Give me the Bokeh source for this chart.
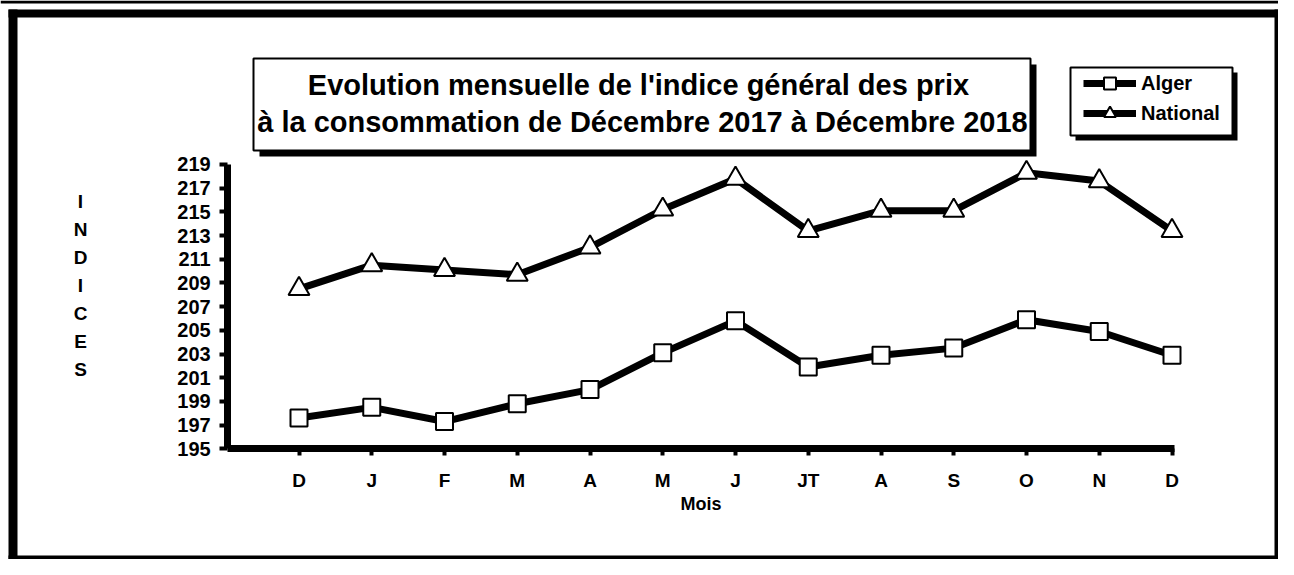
from bokeh.plotting import figure
from bokeh.models import (Range1d, LinearAxis, FixedTicker, BoxAnnotation, Label,
                          Legend, LegendItem)
from bokeh.embed import file_html
from bokeh.resources import INLINE

# ---------------- data ----------------
months = ["D", "J", "F", "M", "A", "M", "J", "JT", "A", "S", "O", "N", "D"]
alger = [197.6, 198.5, 197.3, 198.8, 200.0, 203.1, 205.8, 201.9, 202.9, 203.5, 205.9, 204.9, 202.9]
national = [208.5, 210.5, 210.1, 209.7, 212.0, 215.2, 217.8, 213.4, 215.1, 215.1, 218.3, 217.6, 213.4]
y_ticks = [195, 197, 199, 201, 203, 205, 207, 209, 211, 213, 215, 217, 219]
title_lines = ["Evolution mensuelle de l'indice général des  prix",
               "à la consommation de Décembre 2017 à Décembre 2018"]
y_label = "INDICES"
x_label = "Mois"
series_names = ["Alger", "National"]

x_idx = list(range(len(months)))

FONT = "Liberation Sans"
W, H = 1278, 559
FW, FH = W, H                 # the frame covers the whole canvas

# pixel anchors of the value axes in the picture
X0_PX, X_STEP = 298.5, 72.75          # first month, px per month
Y0_PX, Y_STEP = 448.3, 11.846         # value 195, px per index point
x_start = -X0_PX / X_STEP
x_end = x_start + FW / X_STEP
y_end = y_ticks[0] + Y0_PX / Y_STEP
y_start = y_end - FH / Y_STEP


def sx(px):   # picture x -> frame screen x
    return px


def sy(py):   # picture y -> frame screen y (bottom-up)
    return FH - py


p = figure(width=W, height=H, output_backend="svg", toolbar_location=None,
           x_range=Range1d(x_start, x_end), y_range=Range1d(y_start, y_end),
           x_axis_type=None, y_axis_type=None, min_border=0)
p.outline_line_color = None
p.background_fill_color = "white"
p.border_fill_color = "white"


# ---------------- decoration boxes ----------------
def rect(l, t, r, b, fill, line=None, lw=0):
    p.add_layout(BoxAnnotation(left=sx(l), right=sx(r), top=sy(t), bottom=sy(b),
                               left_units="screen", right_units="screen",
                               top_units="screen", bottom_units="screen",
                               fill_color=fill, fill_alpha=1, line_color=line,
                               line_alpha=1, line_width=lw, level="underlay"))


def boxed(l, t, r, b, shadow=6):
    rect(l + shadow, t + shadow, r + shadow, b + shadow, "black")
    rect(l, t, r, b, "white", "black", 2)


# page frame
rect(0, 0, W, 3, "black")          # thin rule along the top
rect(8, 9, W, 17, "black")         # top bar
rect(8, 9, 17, H, "black")         # left bar
rect(W - 4, 9, W, H, "black")      # right bar
rect(8, H - 4, W, H, "black")      # bottom bar

# ---------------- series ----------------
la = p.line(x_idx, alger, line_color="black", line_width=7, line_join="round")
sa = p.scatter(x_idx, alger, marker="square", size=17, fill_color="white",
               line_color="black", line_width=2)
ln = p.line(x_idx, national, line_color="black", line_width=7, line_join="round")
sn = p.scatter(x_idx, national, marker="triangle", size=21, fill_color="white",
               line_color="black", line_width=2)

# ---------------- axes ----------------
xaxis = LinearAxis(fixed_location=y_ticks[0], bounds=(-0.98, 12.03),
                   ticker=FixedTicker(ticks=x_idx),
                   major_label_overrides={i: m for i, m in enumerate(months)},
                   axis_label=x_label)
yaxis = LinearAxis(fixed_location=-0.98, bounds=(y_ticks[0], y_ticks[-1]),
                   ticker=FixedTicker(ticks=y_ticks))
for ax in (xaxis, yaxis):
    ax.axis_line_color = "black"
    ax.axis_line_width = 7
    ax.major_tick_line_color = "black"
    ax.major_tick_line_width = 4
    ax.major_tick_in = 0
    ax.minor_tick_line_color = None
    ax.major_label_text_font = FONT
    ax.major_label_text_font_style = "bold"
    ax.major_label_text_color = "black"
xaxis.major_tick_out = 7
xaxis.major_label_text_font_size = "19px"
xaxis.major_label_standoff = 14
xaxis.axis_label_text_font = FONT
xaxis.axis_label_text_font_style = "bold"
xaxis.axis_label_text_font_size = "18px"
xaxis.axis_label_text_color = "black"
xaxis.axis_label_standoff = 0
yaxis.major_tick_out = 8
yaxis.major_label_text_font_size = "20px"
yaxis.major_label_standoff = 9
p.add_layout(xaxis, "below")
p.add_layout(yaxis, "left")

# y axis label, stacked letters
p.add_layout(Label(x=sx(80), y=sy(285), x_units="screen", y_units="screen",
                   text="\n".join(y_label), text_align="center", text_baseline="middle",
                   text_font=FONT, text_font_style="bold", text_font_size="19px",
                   text_line_height=1.33, text_color="black"))

# ---------------- title ----------------
boxed(253, 58, 1030, 150)
for txt, cy in zip(title_lines, (84, 121)):
    p.add_layout(Label(x=sx(642), y=sy(cy), x_units="screen", y_units="screen",
                       text=txt, text_align="center", text_baseline="middle",
                       text_font=FONT, text_font_style="bold", text_font_size="29px",
                       text_color="black"))

# ---------------- legend ----------------
boxed(1070, 67, 1232, 135, shadow=5)
legend = Legend(items=[LegendItem(label=series_names[0], renderers=[la, sa]),
                       LegendItem(label=series_names[1], renderers=[ln, sn])],
                location=(sx(1083), sy(128)),
                glyph_width=53, glyph_height=30, label_standoff=5, padding=5, spacing=0,
                margin=0, border_line_color=None, background_fill_alpha=0,
                label_text_font=FONT, label_text_font_style="bold",
                label_text_font_size="20px", label_text_color="black")
p.add_layout(legend)

open("out.html", "w").write(file_html(p, INLINE))
